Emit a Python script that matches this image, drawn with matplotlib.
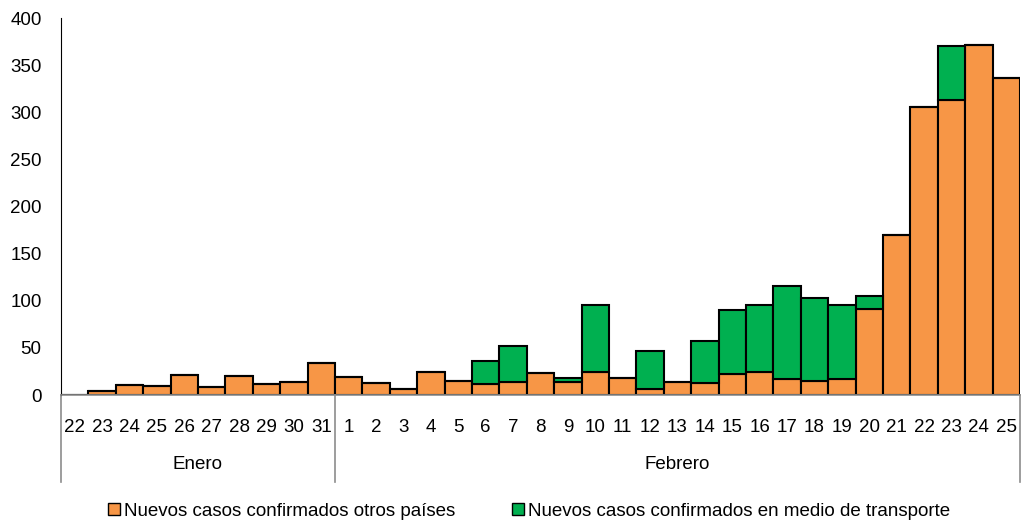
import matplotlib.pyplot as plt
from matplotlib.patches import Patch

plt.rcParams['font.family'] = ['Liberation Sans', 'DejaVu Sans']

# days of the x axis (Jan 22 - Feb 25)
dias_enero = [22, 23, 24, 25, 26, 27, 28, 29, 30, 31]
dias_febrero = list(range(1, 26))
dias = [str(d) for d in dias_enero + dias_febrero]

# new cases in other countries (orange)
otros_paises = [0, 4, 11, 10, 21, 8, 20, 12, 14, 34,
                19, 13, 6, 24, 15, 12, 14, 23, 14, 24,
                18, 6, 14, 13, 22, 24, 17, 15, 17, 91,
                170, 306, 313, 371, 336]
# new cases on means of transport (green)
transporte = [0, 0, 0, 0, 0, 0, 0, 0, 0, 0,
              0, 0, 0, 0, 0, 24, 38, 0, 4, 71,
              0, 41, 0, 44, 68, 71, 99, 88, 79, 14,
              0, 0, 57, 0, 0]

naranja = "#F79646"
verde = "#00B050"
fs = 13.5

fig = plt.figure(figsize=(10.23, 5.25), dpi=100)
ax = fig.add_axes([0.0596, 0.2476, 0.9374, 0.7181])

x = list(range(len(dias)))
ax.bar(x, otros_paises, width=1.0, color=naranja, edgecolor="black", linewidth=1.5)
ax.bar(x, transporte, width=1.0, bottom=otros_paises, color=verde, edgecolor="black", linewidth=1.5)

ax.set_xlim(-0.5, len(dias) - 0.5)
ax.set_ylim(0, 400)
ax.set_yticks(range(0, 401, 50))
ax.tick_params(axis="y", length=0, labelsize=fs, pad=14)
ax.set_xticks(x)
ax.set_xticklabels(dias)
ax.tick_params(axis="x", length=0, labelsize=fs, pad=17)

for s in ["top", "right"]:
    ax.spines[s].set_visible(False)
ax.spines["left"].set_color("black")
ax.spines["bottom"].set_color("#8c8c8c")
ax.spines["bottom"].set_linewidth(1.2)

# month group separators and labels
trans = ax.get_xaxis_transform()
for xs in [-0.5, len(dias_enero) - 0.5, len(dias) - 0.5]:
    ax.plot([xs, xs], [0, -0.23], transform=trans, color="#8c8c8c", lw=1.2, clip_on=False)
ax.text((len(dias_enero) - 1) / 2, -0.185, "Enero", transform=trans, ha="center", va="center", fontsize=fs)
ax.text(len(dias_enero) + (len(dias_febrero) - 1) / 2, -0.185, "Febrero", transform=trans,
        ha="center", va="center", fontsize=fs)

handles = [Patch(facecolor=naranja, edgecolor="black", label="Nuevos casos confirmados otros países"),
           Patch(facecolor=verde, edgecolor="black", label="Nuevos casos confirmados en medio de transporte")]
fig.legend(handles=handles, loc="lower center", bbox_to_anchor=(0.517, -0.022), ncol=2, frameon=False,
           fontsize=fs, handlelength=0.65, handleheight=0.65, handletextpad=0.2, columnspacing=3)

plt.savefig("out.png")
